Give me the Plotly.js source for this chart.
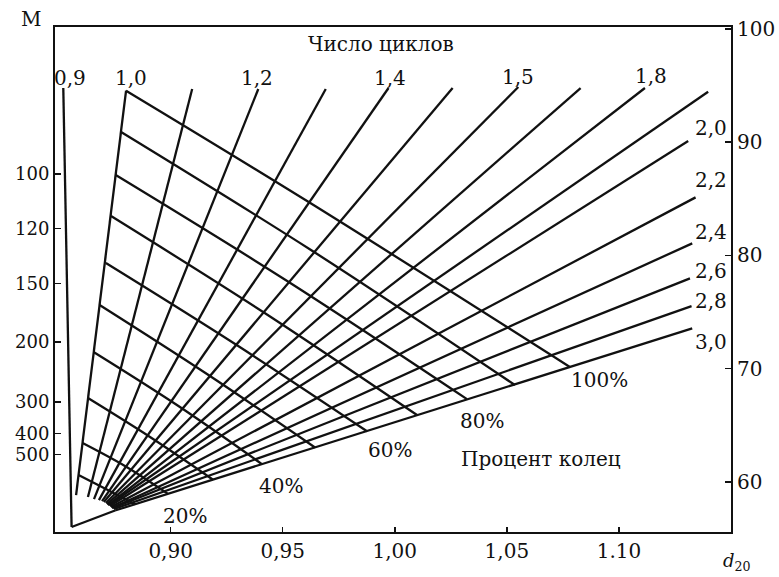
<!DOCTYPE html>
<html>
<head>
<meta charset="utf-8">
<script src="https://cdn.plot.ly/plotly-3.0.1.min.js"></script>
<style>html,body{margin:0;padding:0;background:#fff;}#chart{width:779px;height:577px;}</style>
</head>
<body>
<div id="chart"></div>
<script>
// ---- data (x = d20, y = right-hand scale) ----
const cycleLabels = ['0,9','1,0','','1,2','','1,4','','1,5','','1,8','','2,0','2,2','2,4','2,6','2,8','3,0'];
const fanTopD  = [0.8521,0.8801,0.9096,0.9391,0.9692,0.9972,1.0258,1.0551,1.0829,1.1116,1.1398,1.1309,1.1342,1.1327,1.1317,1.1324,1.1327];
const fanTopV  = [94.79,94.55,94.70,94.70,94.70,94.79,94.79,94.88,94.79,94.79,94.46,90.11,85.13,81.07,77.98,75.53,73.56];
const fanFootD = [0.8558,0.8578,0.8631,0.8658,0.8680,0.8694,0.8702,0.8711,0.8716,0.8720,0.8725,0.8729,0.8734,0.8738,0.8743,0.8747,0.8752];
const fanFootV = [56.01,58.83,58.66,58.48,58.39,58.30,58.22,58.13,58.04,57.95,57.95,57.86,57.77,57.69,57.69,57.60,57.47];

const ringPct    = [100,90,80,70,60,50,40,30,20,10];
const ringLeftD  = [0.8801,0.8777,0.8755,0.8734,0.8711,0.8683,0.8656,0.8631,0.8607,0.8589];
const ringLeftV  = [94.55,90.93,87.10,83.48,79.33,75.62,71.47,67.40,63.43,60.60];
const ringMidD   = [0.9614,0.9626,0.9518,0.9416,0.9291,0.9162,0.9033,0.8908,0.8796,0.8711];
const ringMidV   = [84.74,80.48,77.77,74.96,72.13,69.52,66.72,63.96,61.40,59.36];
const ringRightD = [1.0781,1.0536,1.0322,1.0099,0.9876,0.9644,0.9407,0.9189,0.8988,0.8841];
const ringRightV = [70.15,68.55,67.31,65.90,64.47,63.03,61.57,60.19,58.94,58.02];

const pctLabels = ['20%','40%','60%','80%','100%'];

const mTickText = ['100','120','150','200','300','400','500'];
const mTickPos  = [87.19,82.38,77.52,72.35,67.05,64.27,62.41];
const rightTicks = [60,70,80,90,100];
const dTicks = [0.90,0.95,1.00,1.05,1.10];
const dTickText = ['0,90','0,95','1,00','1,05','1.10'];

// ---- build traces ----
const fx = [], fy = [];
for (let i = 0; i < fanTopD.length; i++) {
  fx.push(fanTopD[i], fanFootD[i], null);
  fy.push(fanTopV[i], fanFootV[i], null);
}
// bottom closing edge: vertex of 0,9 line to foot of 3,0 line
fx.push(fanFootD[0], fanFootD[fanFootD.length-1]);
fy.push(fanFootV[0], fanFootV[fanFootV.length-1]);

const LW = 2.3;
const traces = [{
  type:'scatter', mode:'lines', x:fx, y:fy, connectgaps:false,
  line:{color:'#111', width:LW}, hoverinfo:'skip', showlegend:false
}];
for (let j = 0; j < ringPct.length; j++) {
  traces.push({
    type:'scatter', mode:'lines', name: ringPct[j] + '%',
    x:[ringLeftD[j], ringMidD[j], ringRightD[j]],
    y:[ringLeftV[j], ringMidV[j], ringRightV[j]],
    line:{color:'#111', width:LW, shape:'spline', smoothing:1},
    hoverinfo:'skip', showlegend:false
  });
}
// invisible trace to activate the right axis
traces.push({type:'scatter', mode:'markers', x:[1.0], y:[80], yaxis:'y2',
  marker:{opacity:0, size:1}, hoverinfo:'skip', showlegend:false});

// ---- labels (placed in pixel terms of the plot area) ----
const L = 55, T = 27, W = 676, H = 505;
const FONT = 'DejaVu Serif, Liberation Serif, serif';
function ann(text, px, py, size, extra) {
  return Object.assign({
    text: text, x: (px - L) / W, y: 1 - (py - T) / H, xref:'paper', yref:'paper',
    showarrow:false, xanchor:'center', yanchor:'middle',
    font:{family:FONT, size:size || 20, color:'#111'}
  }, extra || {});
}
const topLabelPx = [[70,78],[131,78],null,[257,78],null,[390,78],null,[518,77],null,[651,76],null,
                    [711,128],[711,180],[711,232],[711,271],[711,301],[711,342]];
const annotations = [];
cycleLabels.forEach((t, i) => { if (t && topLabelPx[i]) annotations.push(ann(t, topLabelPx[i][0], topLabelPx[i][1], 20)); });
const pctPx = [[185,516],[281,486],[390,450],[482,421],[599,380]];
pctLabels.forEach((t, i) => annotations.push(ann(t, pctPx[i][0], pctPx[i][1], 20)));
annotations.push(ann('Число циклов', 381, 44, 20));
annotations.push(ann('Процент колец', 541, 459, 20));
annotations.push(ann('M', 31, 19, 20));
annotations.push(ann('<i>d</i><sub>20</sub>', 737, 562, 18));

const axisCommon = {showgrid:false, zeroline:false, showline:true, linecolor:'#111', linewidth:2,
  ticks:'inside', ticklen:6, tickwidth:1.5, tickcolor:'#111',
  tickfont:{family:FONT, size:20, color:'#111'}};

const layout = {
  width:779, height:577,
  margin:{l:L, r:779 - L - W, t:T, b:577 - T - H, pad:0},
  paper_bgcolor:'#fff', plot_bgcolor:'#fff',
  showlegend:false,
  xaxis: Object.assign({}, axisCommon, {range:[0.8484, 1.15], tickmode:'array',
    tickvals:dTicks, ticktext:dTickText, mirror:true, ticklen:5}),
  yaxis: Object.assign({}, axisCommon, {range:[55.57, 100.18], tickmode:'array',
    tickvals:mTickPos, ticktext:mTickText, mirror:true,
    tickfont:{family:FONT, size:18, color:'#111'}}),
  yaxis2: Object.assign({}, axisCommon, {range:[55.57, 100.18], overlaying:'y', side:'right',
    tickmode:'array', tickvals:rightTicks, ticktext:rightTicks.map(String)}),
  annotations: annotations
};

Plotly.newPlot('chart', traces, layout, {staticPlot:true, displayModeBar:false});
</script>
</body>
</html>
